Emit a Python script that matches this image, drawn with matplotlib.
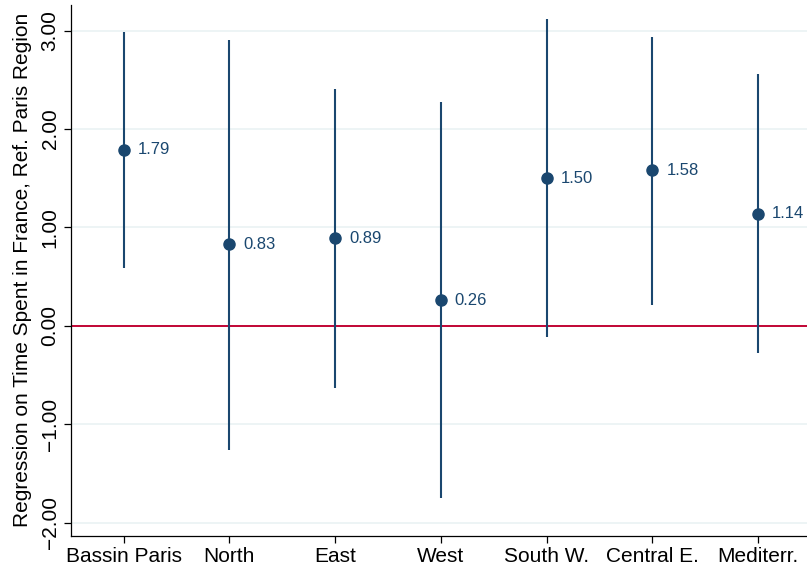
import matplotlib
matplotlib.use("Agg")
import matplotlib.pyplot as plt
import numpy as np

categories = ["Bassin Paris", "North", "East", "West", "South W.", "Central E.", "Mediterr."]
estimates = [1.79, 0.83, 0.89, 0.26, 1.50, 1.58, 1.14]
ci_low = [0.59, -1.26, -0.63, -1.75, -0.11, 0.21, -0.28]
ci_high = [2.99, 2.91, 2.41, 2.28, 3.12, 2.94, 2.56]
yticks = [-2, -1, 0, 1, 2, 3]
ylabel = "Regression on Time Spent in France, Ref. Paris Region"

navy = "#1a476f"
red = "#c10534"
grid = "#eaf2f3"

plt.rcParams["font.family"] = ["Liberation Sans", "DejaVu Sans"]

fig = plt.figure(figsize=(8.07, 5.70), dpi=100)
ax = fig.add_axes([70.7 / 807, (570 - 535.7) / 570, (811 - 70.7) / 807, (535.7 - 5) / 570])

x = np.arange(len(categories))
ax.set_xlim(-0.5, 6.5)
ax.set_ylim(-2.132, 3.261)

for t in yticks:
    ax.axhline(t, color=grid, lw=1.2, zorder=0)
ax.axhline(0, color=red, lw=1.4, zorder=1)

ax.vlines(x, ci_low, ci_high, color=navy, lw=1.5, zorder=2)
ax.plot(x, estimates, "o", color=navy, ms=8, zorder=3)
for xi, v in zip(x, estimates):
    ax.annotate(f"{v:.2f}", (xi, v), xytext=(10, 0), textcoords="offset points",
                va="center", ha="left", color=navy, fontsize=12)

ax.set_xticks(x)
ax.set_xticklabels(categories, fontsize=15)
ax.set_yticks(yticks)
ax.set_yticklabels([f"{t:.2f}".replace("-", "\u2212") for t in yticks], fontsize=15,
                   rotation=90, va="center")
ax.set_ylabel(ylabel, fontsize=15, labelpad=6)

for s in ["top", "right"]:
    ax.spines[s].set_visible(False)
for s in ["left", "bottom"]:
    ax.spines[s].set_color("black")
    ax.spines[s].set_linewidth(0.9)
ax.tick_params(axis="both", length=5, width=0.9, color="black")
ax.tick_params(axis="x", pad=3)
ax.tick_params(axis="y", pad=3)

fig.savefig("out.png", dpi=100)
